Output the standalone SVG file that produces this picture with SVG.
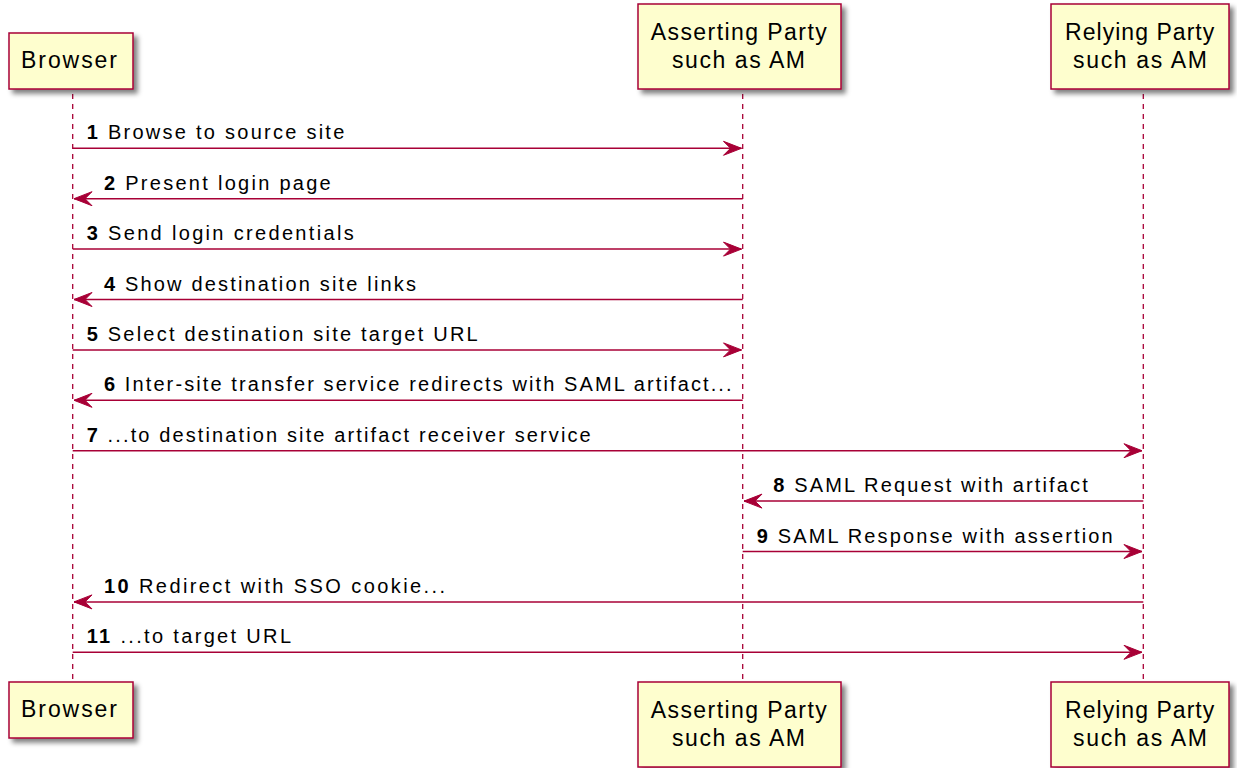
<svg xmlns="http://www.w3.org/2000/svg" width="1237" height="768" viewBox="0 0 1237 768">
<defs>
<style>
.box{fill:#FEFECE;stroke:#A80036;stroke-width:1.5;filter:url(#sh)}
.life{stroke:#A80036;stroke-width:1.3;stroke-dasharray:5,5;fill:none}
.msg{stroke:#A80036;stroke-width:1.5;fill:none;marker-end:url(#ah)}
.pt{font-family:"Liberation Sans",Arial,sans-serif;font-size:23px;fill:#000}
.mt{font-family:"Liberation Sans",Arial,sans-serif;font-size:20px;fill:#000}
.num{font-weight:bold}
</style>
<filter id="sh" x="-20%" y="-20%" width="150%" height="150%">
<feGaussianBlur in="SourceAlpha" stdDeviation="2.5" result="b"/>
<feOffset in="b" dx="4" dy="4" result="o"/>
<feComponentTransfer in="o" result="s"><feFuncA type="linear" slope="0.5"/></feComponentTransfer>
<feMerge><feMergeNode in="s"/><feMergeNode in="SourceGraphic"/></feMerge>
</filter>
<marker id="ah" markerUnits="userSpaceOnUse" markerWidth="20" markerHeight="16" refX="18" refY="8" orient="auto" overflow="visible">
<path d="M0,1 L18,8 L0,15 L7,8 Z" fill="#A80036" stroke="#A80036" stroke-width="1"/>
</marker>
</defs>
<rect width="1237" height="768" fill="#FFFFFF"/>

<g id="lifelines">
<line class="life" x1="72.7" y1="94" x2="72.7" y2="680"/>
<line class="life" x1="742.7" y1="94" x2="742.7" y2="680"/>
<line class="life" x1="1143.3" y1="94" x2="1143.3" y2="680"/>
</g>

<g id="browser">
<rect class="box" x="9" y="33" width="124" height="56"/>
<text class="pt" x="21" y="68.3" textLength="96" lengthAdjust="spacing">Browser</text>
</g>
<g id="asserting">
<rect class="box" x="638" y="4" width="203" height="85"/>
<text class="pt" x="650.7" y="40" textLength="176" lengthAdjust="spacing">Asserting Party</text>
<text class="pt" x="672" y="68.3" textLength="133" lengthAdjust="spacing">such as AM</text>
</g>
<g id="relying">
<rect class="box" x="1051" y="4" width="178" height="85"/>
<text class="pt" x="1065" y="40" textLength="149.3" lengthAdjust="spacing">Relying Party</text>
<text class="pt" x="1073" y="68.3" textLength="134" lengthAdjust="spacing">such as AM</text>
</g>
<g id="browser-bottom">
<rect class="box" x="9" y="682" width="124" height="56"/>
<text class="pt" x="21" y="717.3" textLength="96" lengthAdjust="spacing">Browser</text>
</g>
<g id="asserting-bottom">
<rect class="box" x="638" y="682" width="203" height="85"/>
<text class="pt" x="650.7" y="718" textLength="176" lengthAdjust="spacing">Asserting Party</text>
<text class="pt" x="672" y="746.3" textLength="133" lengthAdjust="spacing">such as AM</text>
</g>
<g id="relying-bottom">
<rect class="box" x="1051" y="682" width="178" height="85"/>
<text class="pt" x="1065" y="718" textLength="149.3" lengthAdjust="spacing">Relying Party</text>
<text class="pt" x="1073" y="746.3" textLength="134" lengthAdjust="spacing">such as AM</text>
</g>

<g id="connectors">
<line class="msg" x1="72.7" y1="148.3" x2="741.5" y2="148.3"/>
<line class="msg" x1="742.7" y1="198.7" x2="74" y2="198.7"/>
<line class="msg" x1="72.7" y1="249.1" x2="741.5" y2="249.1"/>
<line class="msg" x1="742.7" y1="299.5" x2="74" y2="299.5"/>
<line class="msg" x1="72.7" y1="349.9" x2="741.5" y2="349.9"/>
<line class="msg" x1="742.7" y1="400.3" x2="74" y2="400.3"/>
<line class="msg" x1="72.7" y1="450.7" x2="1142" y2="450.7"/>
<line class="msg" x1="1143.3" y1="501.1" x2="744" y2="501.1"/>
<line class="msg" x1="742.7" y1="551.5" x2="1142" y2="551.5"/>
<line class="msg" x1="1143.3" y1="601.9" x2="74" y2="601.9"/>
<line class="msg" x1="72.7" y1="652.3" x2="1142" y2="652.3"/>
</g>

<g id="labels">
<text class="mt" x="86.7" y="139.3" textLength="257.6" lengthAdjust="spacing"><tspan class="num">1</tspan> Browse to source site</text>
<text class="mt" x="104" y="189.7" textLength="226.7" lengthAdjust="spacing"><tspan class="num">2</tspan> Present login page</text>
<text class="mt" x="86.7" y="240.1" textLength="267" lengthAdjust="spacing"><tspan class="num">3</tspan> Send login credentials</text>
<text class="mt" x="104" y="290.5" textLength="312" lengthAdjust="spacing"><tspan class="num">4</tspan> Show destination site links</text>
<text class="mt" x="86.7" y="340.9" textLength="391" lengthAdjust="spacing"><tspan class="num">5</tspan> Select destination site target URL</text>
<text class="mt" x="104" y="391.3" textLength="627.5" lengthAdjust="spacing"><tspan class="num">6</tspan> Inter-site transfer service redirects with SAML artifact...</text>
<text class="mt" x="86.7" y="441.7" textLength="504" lengthAdjust="spacing"><tspan class="num">7</tspan> ...to destination site artifact receiver service</text>
<text class="mt" x="773.3" y="492.1" textLength="314.4" lengthAdjust="spacing"><tspan class="num">8</tspan> SAML Request with artifact</text>
<text class="mt" x="756.7" y="542.5" textLength="356" lengthAdjust="spacing"><tspan class="num">9</tspan> SAML Response with assertion</text>
<text class="mt" x="104" y="592.9" textLength="341" lengthAdjust="spacing"><tspan class="num">10</tspan> Redirect with SSO cookie...</text>
<text class="mt" x="86.7" y="643.3" textLength="204.3" lengthAdjust="spacing"><tspan class="num">11</tspan> ...to target URL</text>
</g>
</svg>
